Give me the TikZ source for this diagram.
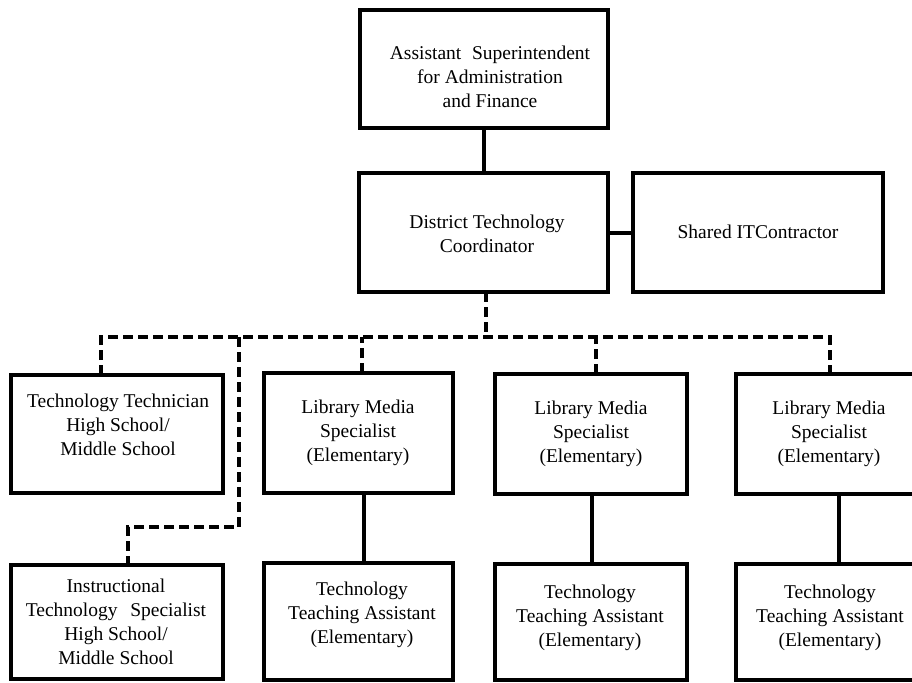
\documentclass[tikz,border=0pt]{standalone}
\usepackage{fontspec}
\setmainfont{Liberation Serif}
\begin{document}
\begin{tikzpicture}[x=1pt,y=-1pt,
  box/.style={draw, line width=3.6pt, rectangle, inner sep=0pt, outer sep=0pt},
  lbl/.style={align=center, font=\fontsize{19.5}{24}\selectfont, inner sep=0pt},
  solidlink/.style={line width=4pt},
  dashlink/.style={line width=4.2pt, dash pattern=on 10pt off 5pt, line join=miter}]
\useasboundingbox (0,0) rectangle (912,682);
\clip (0,0) rectangle (912,682);
% boxes
\node[box, minimum width=248pt, minimum height=118pt] (asst) at (484,69) {};
\node[box, minimum width=249pt, minimum height=119pt] (district) at (483.5,232.5) {};
\node[box, minimum width=250pt, minimum height=119pt] (shared) at (758,232.5) {};
\node[box, minimum width=212pt, minimum height=118pt] (tech) at (117,434) {};
\node[box, minimum width=212pt, minimum height=114pt] (instr) at (117,622) {};
\node[box, minimum width=189pt, minimum height=120pt] (lms1) at (358.5,433) {};
\node[box, minimum width=189pt, minimum height=117pt] (tta1) at (358.5,621.5) {};
\node[box, minimum width=192pt, minimum height=120pt] (lms2) at (591,434) {};
\node[box, minimum width=192pt, minimum height=116pt] (tta2) at (591,622) {};
\node[box, minimum width=188pt, minimum height=120pt] (lms3) at (830,434) {};
\node[box, minimum width=188pt, minimum height=116pt] (tta3) at (830,622) {};
% texts
\node[lbl] (asst-t) at (490,77) {Assistant\hspace{0.3em} Superintendent\\for Administration\\and Finance};
\node[lbl] (district-t) at (487,234) {District Technology\\Coordinator};
\node[lbl] (shared-t) at (758,232) {Shared ITContractor};
\node[lbl] (tech-t) at (118,425) {Technology Technician\\High School/\\Middle School};
\node[lbl] (instr-t) at (116,622) {Instructional\\Technology\hspace{0.4em} Specialist\\High School/\\Middle School};
\node[lbl] (lms1-t) at (358,433) {Library Media\\Specialist\\(Elementary)};
\node[lbl] (tta1-t) at (362,615) {Technology\\Teaching Assistant\\(Elementary)};
\node[lbl] (lms2-t) at (591,434) {Library Media\\Specialist\\(Elementary)};
\node[lbl] (tta2-t) at (590,618) {Technology\\Teaching Assistant\\(Elementary)};
\node[lbl] (lms3-t) at (829,434) {Library Media\\Specialist\\(Elementary)};
\node[lbl] (tta3-t) at (830,618) {Technology\\Teaching Assistant\\(Elementary)};
% solid connectors
\draw[solidlink] (asst.south) -- (asst.south |- district.north);
\draw[solidlink] (district.east) -- (shared.west);
\draw[solidlink] ([xshift=5.5pt]lms1.south) -- ([xshift=5.5pt]tta1.north);
\draw[solidlink] ([xshift=1pt]lms2.south) -- ([xshift=1pt]tta2.north);
\draw[solidlink] ([xshift=9pt]lms3.south) -- ([xshift=9pt]tta3.north);
% dashed connectors
\coordinate (busL) at (101,337);
\coordinate (busR) at (830,337);
\coordinate (busI) at (239,337);
\draw[dashlink] ([xshift=2.5pt]district.south) -- ([xshift=2.5pt]district.south |- busL);
\draw[dashlink] ([xshift=-16pt]tech.north) -- (busL) -- (busR) -- (lms3.north);
\draw[dashlink] ([xshift=3.5pt]lms1.north) -- ([xshift=3.5pt]lms1.north |- busL);
\draw[dashlink] ([xshift=5pt]lms2.north) -- ([xshift=5pt]lms2.north |- busL);
\draw[dashlink] (busI) -- (239,527) -| ([xshift=11pt]instr.north);
\end{tikzpicture}
\end{document}
